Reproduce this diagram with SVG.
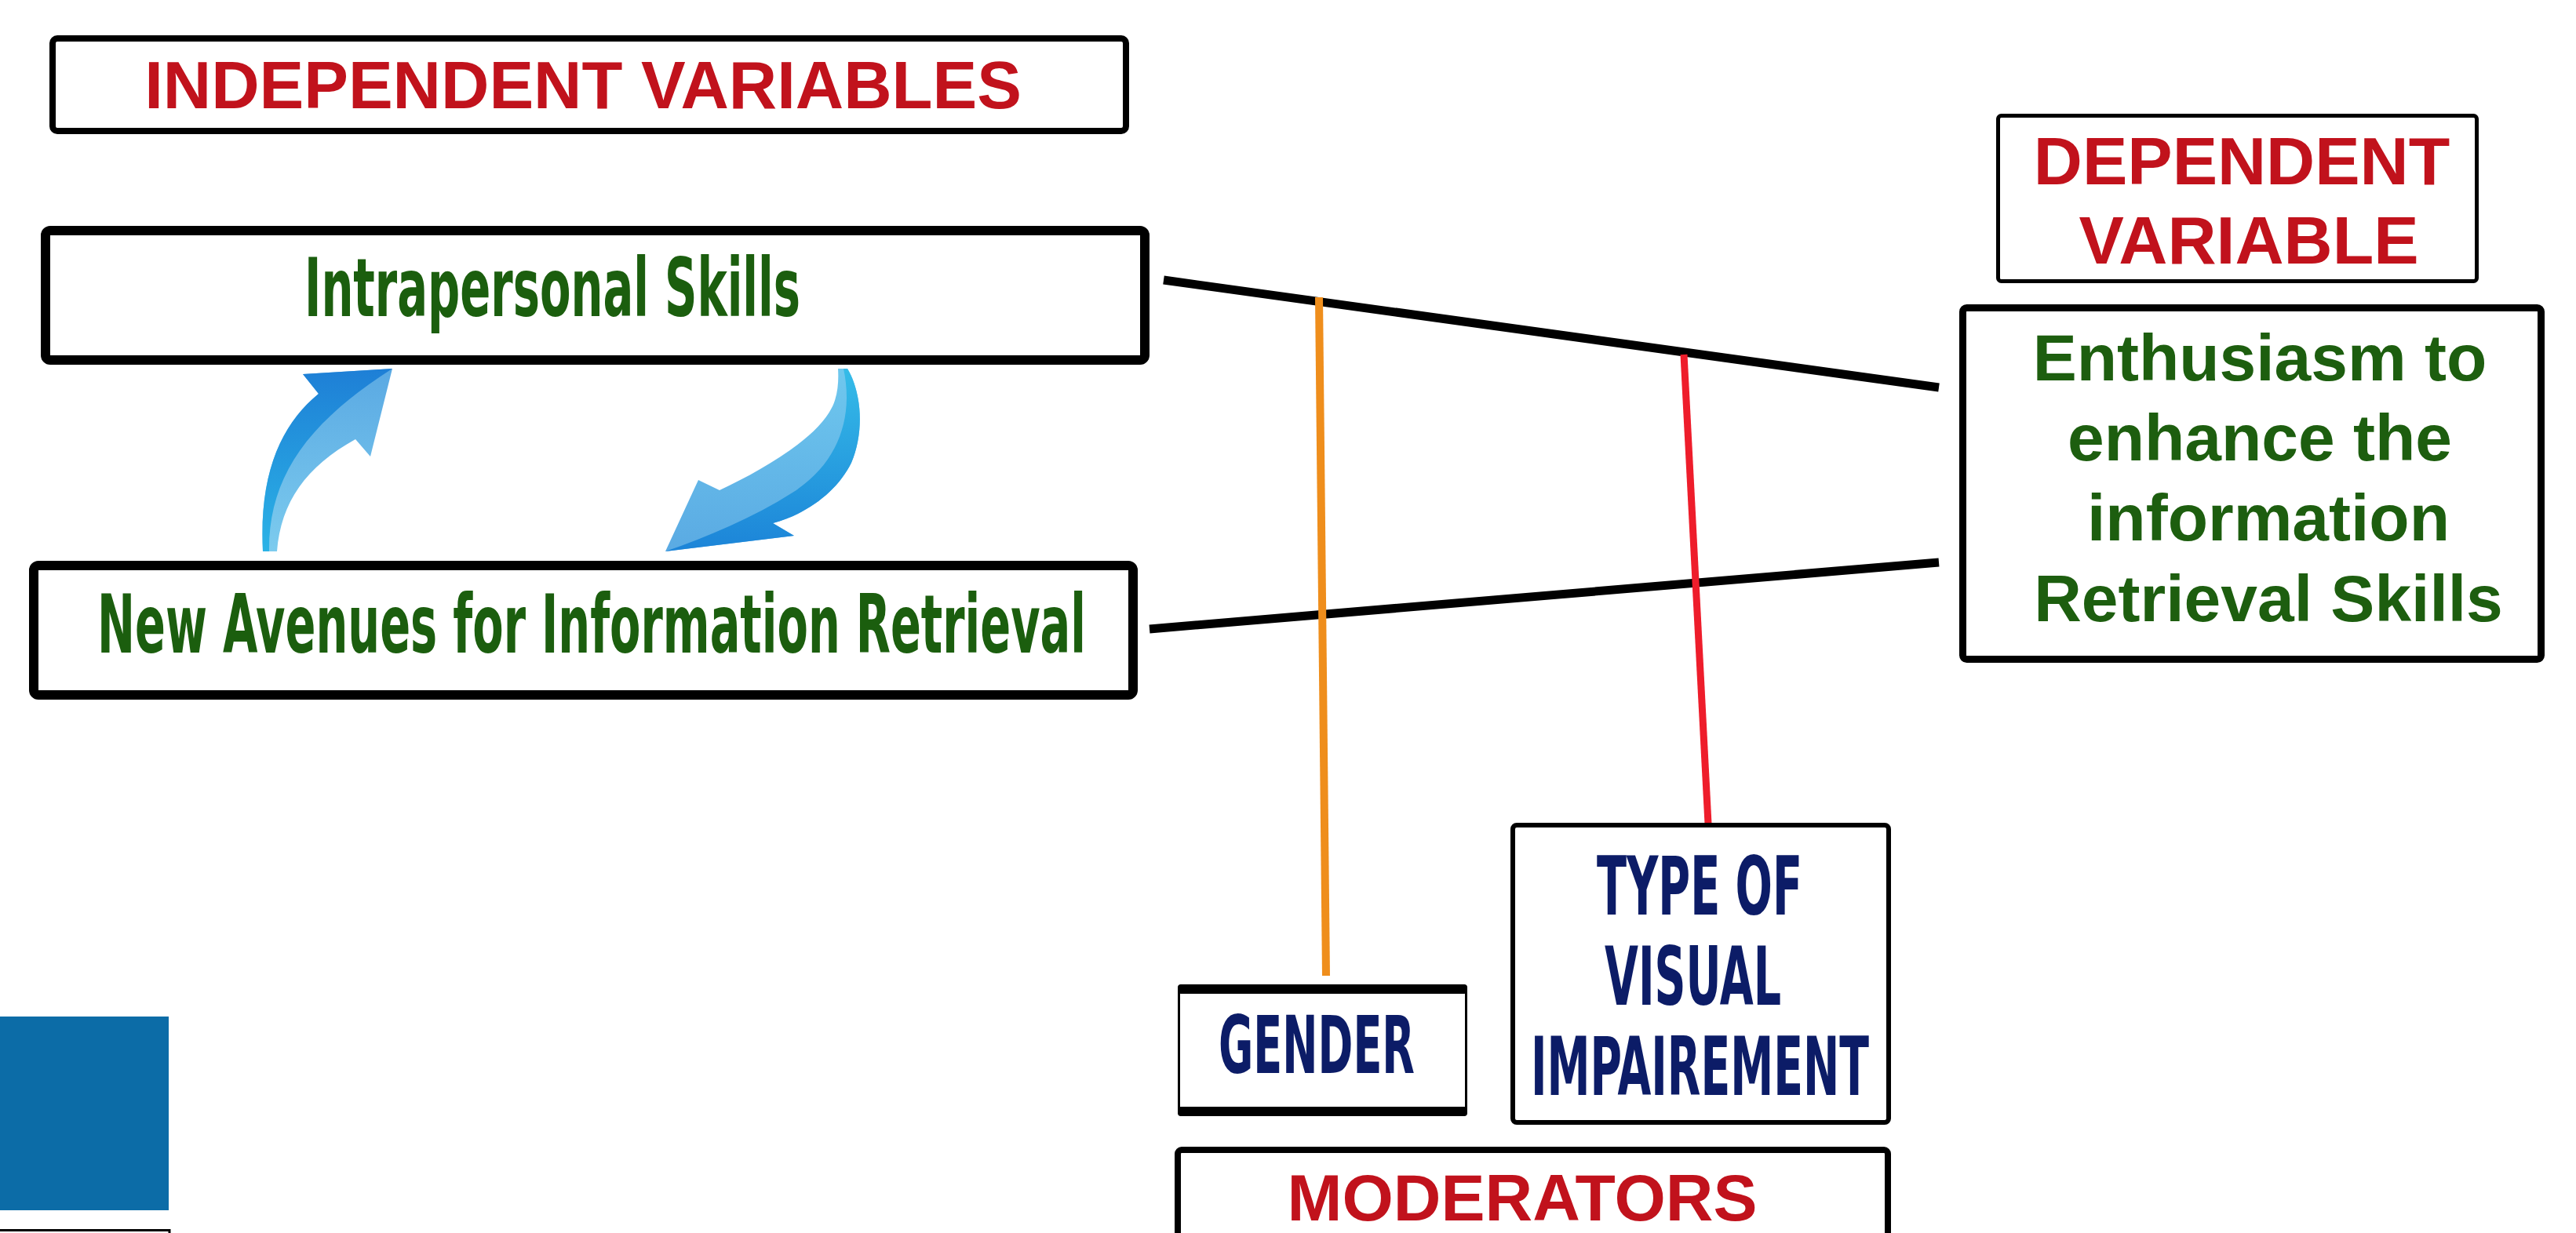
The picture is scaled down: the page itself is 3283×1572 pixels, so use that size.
<svg xmlns="http://www.w3.org/2000/svg" width="3283" height="1572" viewBox="0 0 3283 1572">
<defs>
<style>
.box{fill:#fff;stroke:#000;stroke-linejoin:round}
.red{font-family:"Liberation Sans",Arial,sans-serif;font-weight:bold;fill:#C1121C}
.green{font-family:"Liberation Sans",Arial,sans-serif;font-weight:bold;fill:#1D5E0F}
.cond{font-family:"Liberation Sans Narrow","DejaVu Sans Condensed","Liberation Sans",sans-serif;font-weight:bold}
.cg{fill:#1B5E0E}
.cn{fill:#0C1C67}
.conn{fill:none;stroke-linecap:butt}
</style>
<linearGradient id="ldark" x1="0" y1="1" x2="0" y2="0">
<stop offset="0" stop-color="#2BB3E6"/>
<stop offset="1" stop-color="#1E7FD6"/>
</linearGradient>
<linearGradient id="llight" x1="0" y1="1" x2="0" y2="0">
<stop offset="0" stop-color="#7CCBEE"/>
<stop offset="1" stop-color="#5AA9E3"/>
</linearGradient>
<linearGradient id="rdark" x1="0" y1="0" x2="0" y2="1">
<stop offset="0" stop-color="#35BCE8"/>
<stop offset="1" stop-color="#1C84D8"/>
</linearGradient>
<linearGradient id="rlight" x1="0" y1="0" x2="0" y2="1">
<stop offset="0" stop-color="#6FC8EE"/>
<stop offset="1" stop-color="#5AAAE3"/>
</linearGradient>
</defs>
<rect width="3283" height="1572" fill="#fff"/>

<g id="connectors">
<line class="conn" x1="1483" y1="357" x2="2471" y2="494" stroke="#000" stroke-width="11"/>
<line class="conn" x1="1465" y1="802" x2="2471" y2="717" stroke="#000" stroke-width="11"/>
<line class="conn" x1="1681" y1="379" x2="1690" y2="1244" stroke="#EF8E1C" stroke-width="10"/>
<line class="conn" x1="2146" y1="452" x2="2177" y2="1050" stroke="#EE1D2B" stroke-width="9"/>
</g>

<g id="arrow-up">
<path d="M500,470 L386,477 L406,502 C360,540 330,600 335,703 L353,703 C358,640 390,595 453,560 L472,582 Z" fill="url(#llight)"/>
<path d="M500,470 L386,477 L406,502 C360,540 330,600 335,703 L343,703 C342,610 390,540 500,470 Z" fill="url(#ldark)"/>
</g>
<g id="arrow-down">
<path d="M1068,470 L1080,470 C1098,500 1102,550 1085,590 C1068,625 1030,655 985,667 L1012,683 L848,703 L890,612 L917,625 C970,600 1040,560 1060,520 C1068,505 1069,485 1068,470 Z" fill="url(#rlight)"/>
<path d="M1075,470 L1080,470 C1098,500 1102,550 1085,590 C1068,625 1030,655 985,667 L1012,683 L848,703 C900,685 960,660 1010,628 C1070,590 1088,530 1075,470 Z" fill="url(#rdark)"/>
</g>

<g id="independent-variables">
<rect class="box" x="67" y="49" width="1368" height="118" rx="6" stroke-width="8"/>
<text class="red" x="743" y="138" font-size="85" text-anchor="middle">INDEPENDENT VARIABLES</text>
</g>

<g id="intrapersonal-skills">
<rect class="box" x="58" y="294" width="1401" height="165" rx="6" stroke-width="12"/>
<text class="cond cg" x="388" y="403" font-size="103" textLength="632" lengthAdjust="spacingAndGlyphs">Intrapersonal Skills</text>
</g>

<g id="new-avenues">
<rect class="box" x="43" y="721" width="1401" height="165" rx="6" stroke-width="12"/>
<text class="cond cg" x="124" y="832" font-size="103" textLength="1260" lengthAdjust="spacingAndGlyphs">New Avenues for Information Retrieval</text>
</g>

<g id="dependent-variable">
<rect class="box" x="2546.5" y="147.5" width="610" height="211" rx="4" stroke-width="5"/>
<text class="red" x="2857" y="235" font-size="86" text-anchor="middle">DEPENDENT</text>
<text class="red" x="2866" y="336" font-size="86" text-anchor="middle">VARIABLE</text>
</g>

<g id="enthusiasm">
<rect class="box" x="2501.5" y="392.5" width="737" height="448" rx="5" stroke-width="9"/>
<text class="green" x="2880" y="485" font-size="84" text-anchor="middle">Enthusiasm to</text>
<text class="green" x="2880" y="587" font-size="84" text-anchor="middle">enhance the</text>
<text class="green" x="2891" y="689" font-size="84" text-anchor="middle">information</text>
<text class="green" x="2891" y="792" font-size="84" text-anchor="middle">Retrieval Skills</text>
</g>

<g id="gender">
<rect class="box" x="1502.5" y="1256.5" width="366" height="165" rx="4" stroke-width="3"/>
<rect x="1501" y="1255" width="369" height="12" rx="4" fill="#000"/>
<rect x="1501" y="1411" width="369" height="12" rx="4" fill="#000"/>
<text class="cond cn" x="1553" y="1368" font-size="102" textLength="250" lengthAdjust="spacingAndGlyphs">GENDER</text>
</g>

<g id="type-of-visual-impairement">
<rect class="box" x="1928" y="1052" width="479" height="379" rx="5" stroke-width="6"/>
<text class="cond cn" x="2035" y="1166" font-size="104" textLength="262" lengthAdjust="spacingAndGlyphs">TYPE OF</text>
<text class="cond cn" x="2045" y="1281" font-size="104" textLength="225" lengthAdjust="spacingAndGlyphs">VISUAL</text>
<text class="cond cn" x="1951" y="1396" font-size="104" textLength="431" lengthAdjust="spacingAndGlyphs">IMPAIREMENT</text>
</g>

<g id="moderators">
<rect class="box" x="1501" y="1466" width="905" height="160" rx="5" stroke-width="8"/>
<text class="red" x="1940" y="1556" font-size="84" text-anchor="middle">MODERATORS</text>
</g>

<g id="blue-square">
<rect x="0" y="1296" width="215" height="247" fill="#0C6CA7"/>
</g>
<g id="bottom-left-box">
<rect x="-5" y="1568.5" width="221" height="40" fill="#fff" stroke="#000" stroke-width="3"/>
</g>
</svg>
